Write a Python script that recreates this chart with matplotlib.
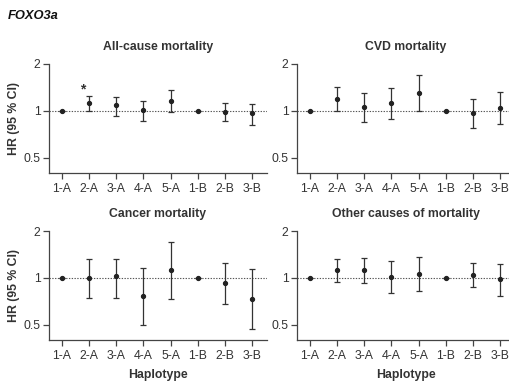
import matplotlib
matplotlib.use("Agg")
import matplotlib.pyplot as plt
from matplotlib.ticker import FixedLocator, NullLocator

plt.rcParams['font.family'] = ['Liberation Sans', 'DejaVu Sans']

haplotypes = ["1-A", "2-A", "3-A", "4-A", "5-A", "1-B", "2-B", "3-B"]

titles = ["All-cause mortality", "CVD mortality", "Cancer mortality", "Other causes of mortality"]

allcause_hr = [1.0, 1.13, 1.088, 1.015, 1.16, 1.0, 0.99, 0.966]
allcause_lo = [1.0, 1.0, 0.933, 0.866, 0.99, 1.0, 0.866, 0.816]
allcause_hi = [1.0, 1.256, 1.225, 1.16, 1.37, 1.0, 1.13, 1.115]

cvd_hr = [1.0, 1.195, 1.056, 1.126, 1.30, 1.0, 0.966, 1.045]
cvd_lo = [1.0, 1.0, 0.845, 0.888, 0.995, 1.0, 0.777, 0.82]
cvd_hi = [1.0, 1.42, 1.30, 1.40, 1.69, 1.0, 1.19, 1.32]

cancer_hr = [1.0, 1.0, 1.03, 0.763, 1.13, 1.0, 0.924, 0.734]
cancer_lo = [1.0, 0.748, 0.748, 0.498, 0.737, 1.0, 0.678, 0.471]
cancer_hi = [1.0, 1.32, 1.32, 1.153, 1.71, 1.0, 1.25, 1.136]

other_hr = [1.0, 1.12, 1.12, 1.015, 1.066, 1.0, 1.05, 0.98]
other_lo = [1.0, 0.947, 0.929, 0.806, 0.821, 1.0, 0.876, 0.767]
other_hi = [1.0, 1.317, 1.35, 1.279, 1.363, 1.0, 1.25, 1.235]

series = [
    (allcause_hr, allcause_lo, allcause_hi),
    (cvd_hr, cvd_lo, cvd_hi),
    (cancer_hr, cancer_lo, cancer_hi),
    (other_hr, other_lo, other_hi),
]

star_label = "*"
star_index = 1
star_value = 1.38

yticks = [0.5, 1, 2]
ytick_labels = ["0.5", "1", "2"]

W, H = 509, 382
fig = plt.figure(figsize=(W / 100, H / 100), dpi=100)

txt = '#333333'
axcol = '#444444'

# axes positions in pixels: left, top, right, bottom
boxes = [
    (49, 64, 267, 173),
    (297, 64, 515, 173),
    (49, 231, 267, 340),
    (297, 231, 515, 340),
]

for i, (box, (hr, lo, hi)) in enumerate(zip(boxes, series)):
    l, t, r, b = box
    ax = fig.add_axes([l / W, (H - b) / H, (r - l) / W, (b - t) / H])
    ax.set_yscale('log', base=2)
    x = list(range(len(haplotypes)))
    yerr = [[h - lw for h, lw in zip(hr, lo)], [hh - h for h, hh in zip(hr, hi)]]
    ax.axhline(1.0, color='#555555', lw=0.8, ls=(0, (1.2, 1.3)), zorder=1)
    ax.errorbar(x, hr, yerr=yerr, fmt='o', ms=2.8, color='#222222', ecolor='#333333',
                elinewidth=0.9, capsize=2.5, capthick=0.9, zorder=3)
    ax.set_ylim(0.4, 2)
    ax.set_xlim(-0.48, 7.55)
    ax.yaxis.set_major_locator(FixedLocator(yticks))
    ax.yaxis.set_minor_locator(NullLocator())
    ax.set_yticklabels(ytick_labels)
    ax.set_xticks(x)
    ax.set_xticklabels(haplotypes)
    ax.tick_params(axis='both', direction='out', length=4, width=0.9, color=axcol,
                   labelsize=8.8, labelcolor=txt, pad=2)
    ax.tick_params(axis='x', pad=3)
    for s in ['top', 'right']:
        ax.spines[s].set_visible(False)
    for s in ['left', 'bottom']:
        ax.spines[s].set_color(axcol)
        ax.spines[s].set_linewidth(0.9)
    ax.set_title(titles[i], fontsize=8.8, fontweight='bold', color=txt, pad=10)
    if i % 2 == 0:
        ax.set_ylabel("HR (95 % CI)", fontsize=8.8, fontweight='bold', color=txt, labelpad=3)
    if i >= 2:
        ax.set_xlabel("Haplotype", fontsize=8.8, fontweight='bold', color=txt, labelpad=5)
    if i == 0:
        ax.text(star_index - 0.25, star_value, star_label, ha='center', va='center',
                fontsize=10, fontweight='bold', color=txt)

fig.text(8 / W, 1 - 16 / H, "FOXO3a", fontsize=9.3, fontweight='bold', fontstyle='italic',
         color='#111111', ha='left', va='center')

fig.savefig("out.png", dpi=100)
